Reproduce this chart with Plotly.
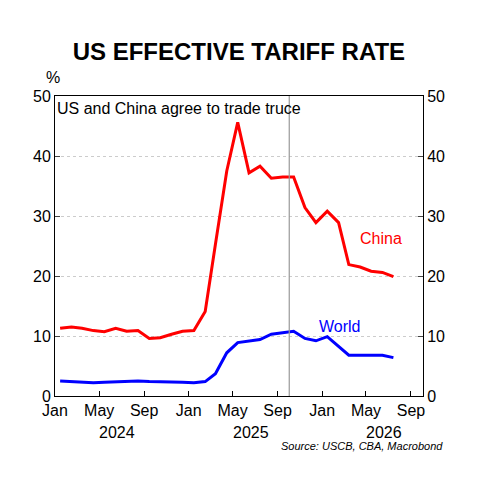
import plotly.graph_objects as go
import pandas as pd

china = [11.3, 11.5, 11.3, 10.9, 10.7, 11.3, 10.8, 10.9, 9.6, 9.7, 10.3, 10.8, 10.9, 14.1,
         25.3, 37.5, 45.6, 37.2, 38.3, 36.3, 36.5, 36.5, 31.4, 28.9, 30.8, 28.9, 21.9, 21.5,
         20.8, 20.6, 19.9]
world = [2.5, 2.4, 2.2, 2.2, 2.3, 2.4, 2.5, 2.5, 2.4, 2.4, 2.3, 2.3, 2.2, 2.4, 3.7, 7.2,
         8.9, 9.1, 9.4, 10.3, 10.6, 10.8, 9.6, 9.2, 9.9, 8.3, 6.8, 6.8, 6.8, 6.8, 6.4]
yticks = [0, 10, 20, 30, 40, 50]
years = ["2024", "2025", "2026"]
event_date = "2025-10-03"

dates = pd.date_range("2024-01-01", periods=31, freq="MS") + pd.Timedelta(days=14)

fig = go.Figure()
fig.add_trace(go.Scatter(x=dates, y=china, mode="lines", line=dict(color="#ff0000", width=3), yaxis="y"))
fig.add_trace(go.Scatter(x=dates, y=world, mode="lines", line=dict(color="#0000ff", width=3), yaxis="y"))
fig.add_trace(go.Scatter(x=dates, y=world, mode="lines", line=dict(width=0), yaxis="y2", showlegend=False, hoverinfo="skip", opacity=0))

font = "Liberation Sans, Arial, sans-serif"
fig.add_shape(type="line", x0=event_date, x1=event_date, y0=0, y1=1, yref="paper", line=dict(color="#999999", width=1.2))

fig.update_layout(
    width=481, height=485, margin=dict(l=47, r=66, t=88, b=97, autoexpand=False),
    paper_bgcolor="white", plot_bgcolor="white", showlegend=False,
    font=dict(family=font, size=16, color="black"),
    title=dict(text="<b>US EFFECTIVE TARIFF RATE</b>", x=0.48, xanchor="center", y=0.91, yanchor="middle",
               font=dict(size=24, family=font)),
    xaxis=dict(type="date", range=["2024-01-01", "2026-10-04"], tick0="2024-01-01", dtick="M4",
               tickformat="%b", ticks="inside", ticklen=5, tickcolor="black", showgrid=False, automargin=False,
               showline=True, linecolor="black", mirror=True, tickfont=dict(size=16)),
    yaxis=dict(range=[0, 50], tickvals=yticks, ticks="inside", ticklen=5, showline=True, automargin=False,
               linecolor="black", gridcolor="#cccccc", griddash="dot", zeroline=False, tickfont=dict(size=16)),
    yaxis2=dict(range=[0, 50], tickvals=yticks, overlaying="y", side="right", ticks="inside", automargin=False,
                ticklen=5, showline=True, linecolor="black", showgrid=False, zeroline=False, tickfont=dict(size=16)),
)

anns = [
    dict(text="%", x=0, xref="paper", xanchor="center", xshift=-2, y=1.0, yref="paper", yanchor="bottom", yshift=8, font=dict(size=16)),
    dict(text="US and China agree to trade truce", x=0, xref="paper", xanchor="left", xshift=0, y=50, yanchor="top", yshift=-2, font=dict(size=16)),
    dict(text="China", x="2026-06-10", y=26.3, yanchor="middle", font=dict(size=16, color="#ff0000")),
    dict(text="World", x="2026-02-20", y=11.6, yanchor="middle", font=dict(size=16, color="#0000ff")),
    dict(text="<i>Source: USCB, CBA, Macrobond</i>", x=1.06, xref="paper", xanchor="right", y=-0.165, yref="paper", yanchor="middle", font=dict(size=11)),
]
for yr in years:
    anns.append(dict(text=yr, x=f"{yr}-06-20", y=-0.12, yref="paper", yanchor="middle", font=dict(size=16)))
for a in anns:
    a["showarrow"] = False
fig.update_layout(annotations=anns)
fig.write_html("out.html")
